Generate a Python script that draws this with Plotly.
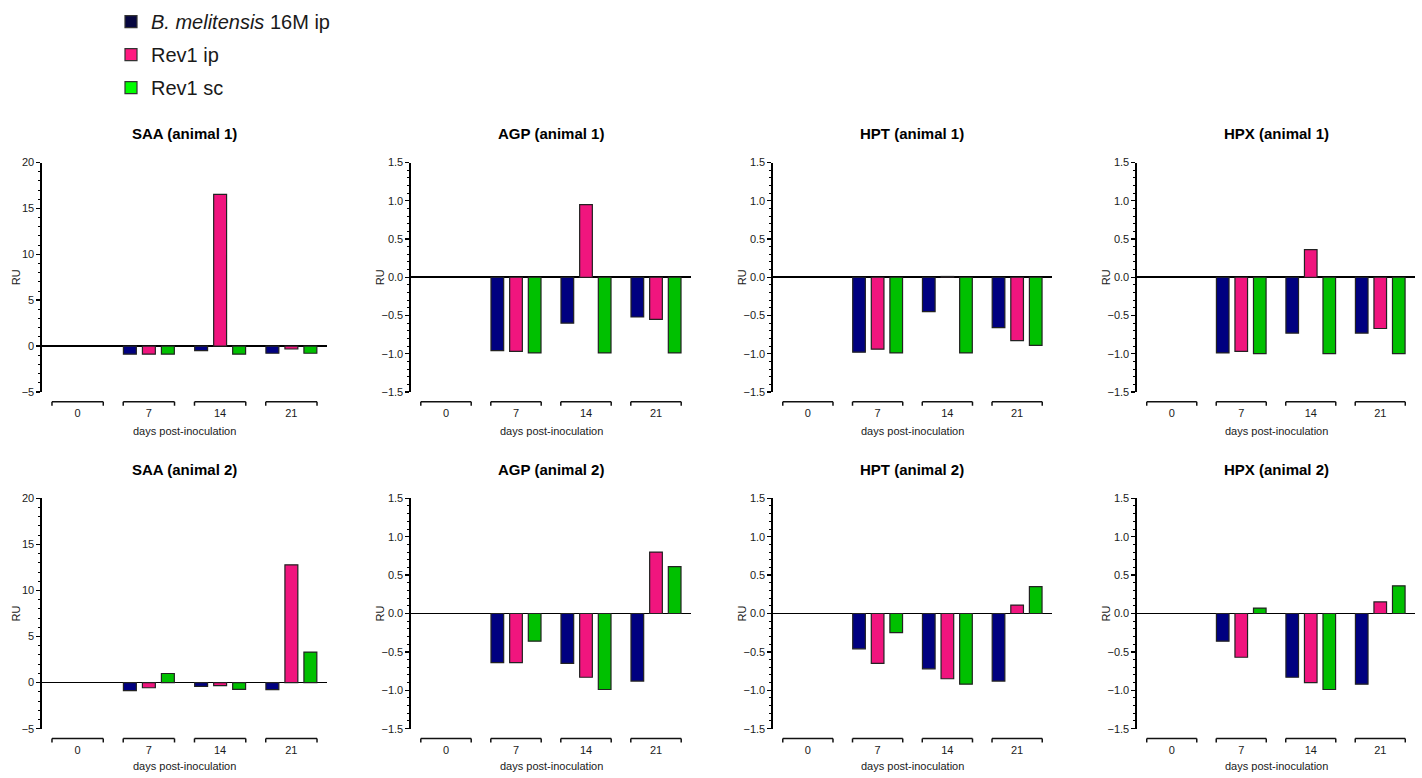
import plotly.graph_objects as go

# ---------------- data ----------------
days = ["0", "7", "14", "21"]
series_names = ["<i>B. melitensis</i> 16M ip", "Rev1 ip", "Rev1 sc"]
bar_colors = ["#000080", "#F0157E", "#00C000"]
legend_colors = ["#06063F", "#FF1A80", "#00FF00"]

panel_titles = ["SAA (animal 1)", "AGP (animal 1)", "HPT (animal 1)", "HPX (animal 1)",
                "SAA (animal 2)", "AGP (animal 2)", "HPT (animal 2)", "HPX (animal 2)"]

saa1_16m = [None, -0.88, -0.50, -0.78]
saa1_ip = [None, -0.88, 16.54, -0.32]
saa1_sc = [None, -0.88, -0.88, -0.78]

agp1_16m = [None, -0.96, -0.60, -0.52]
agp1_ip = [None, -0.97, 0.95, -0.55]
agp1_sc = [None, -0.99, -0.99, -0.99]

hpt1_16m = [None, -0.98, -0.45, -0.66]
hpt1_ip = [None, -0.94, 0.01, -0.83]
hpt1_sc = [None, -0.99, -0.99, -0.89]

hpx1_16m = [None, -0.99, -0.73, -0.73]
hpx1_ip = [None, -0.97, 0.36, -0.67]
hpx1_sc = [None, -1.00, -1.00, -1.00]

saa2_16m = [None, -0.88, -0.42, -0.77]
saa2_ip = [None, -0.56, -0.32, 12.78]
saa2_sc = [None, 0.99, -0.74, 3.31]

agp2_16m = [None, -0.64, -0.65, -0.88]
agp2_ip = [None, -0.64, -0.83, 0.80]
agp2_sc = [None, -0.36, -0.99, 0.61]

hpt2_16m = [None, -0.46, -0.72, -0.88]
hpt2_ip = [None, -0.65, -0.85, 0.11]
hpt2_sc = [None, -0.25, -0.92, 0.35]

hpx2_16m = [None, -0.36, -0.83, -0.92]
hpx2_ip = [None, -0.57, -0.90, 0.15]
hpx2_sc = [None, 0.07, -0.99, 0.36]

panel_values = [
    [saa1_16m, saa1_ip, saa1_sc],
    [agp1_16m, agp1_ip, agp1_sc],
    [hpt1_16m, hpt1_ip, hpt1_sc],
    [hpx1_16m, hpx1_ip, hpx1_sc],
    [saa2_16m, saa2_ip, saa2_sc],
    [agp2_16m, agp2_ip, agp2_sc],
    [hpt2_16m, hpt2_ip, hpt2_sc],
    [hpx2_16m, hpx2_ip, hpx2_sc],
]

saa_axis = dict(range=[-5, 20], dtick=5, minor_dtick=1, fmt="d")
prot_axis = dict(range=[-1.5, 1.5], dtick=0.5, minor_dtick=0.1, fmt=".1f")
panel_axes = [saa_axis, prot_axis, prot_axis, prot_axis,
              saa_axis, prot_axis, prot_axis, prot_axis]

# ---------------- layout geometry (pixels) ----------------
W, H = 1422, 778
col_px = [(42, 327), (411, 691), (773, 1052), (1137, 1415)]
row_px = [(159, 392), (500, 734)]
title_py = [130, 471]
xtitle_py = [432, 772]
ru_px = [16, 380, 742, 1106]

FONT = "Liberation Sans Narrow, Arial Narrow, Liberation Sans, Arial, sans-serif"
TXT = "#1a1a1a"


def px_x(p):
    return p / W


def px_y(p):
    return 1 - p / H


fig = go.Figure()
layout = dict(
    width=W, height=H,
    margin=dict(l=0, r=0, t=0, b=0),
    paper_bgcolor="white", plot_bgcolor="white",
    barmode="group", bargap=0.2, bargroupgap=0.32,
    showlegend=True,
    legend=dict(x=px_x(111), y=px_y(-4), xanchor="left", yanchor="top",
                font=dict(family="Liberation Sans, Arial, sans-serif", size=20, color=TXT),
                traceorder="grouped", tracegroupgap=4, itemwidth=30,
                bgcolor="rgba(0,0,0,0)"),
    font=dict(family=FONT, color=TXT),
)
shapes = []
annotations = []

for k, (title, vals, ax) in enumerate(zip(panel_titles, panel_values, panel_axes)):
    n = k + 1
    r, c = divmod(k, 4)
    xs = "" if n == 1 else str(n)
    x0p, x1p = col_px[c]
    ytop, ybot = row_px[r]
    for s in range(3):
        fig.add_trace(go.Bar(
            x=days, y=vals[s], name=series_names[s],
            marker=dict(color=bar_colors[s], line=dict(color="#222222", width=1.2)),
            showlegend=False, legendgroup=f"s{s}",
            xaxis=f"x{xs}", yaxis=f"y{xs}",
        ))
    layout[f"xaxis{xs}"] = dict(
        domain=[px_x(x0p), px_x(x1p)], anchor=f"y{xs}", type="category",
        categoryorder="array", categoryarray=days,
        range=[-0.5, len(days) - 0.5], showline=False, showgrid=False, zeroline=False,
        ticks="", ticklabelstandoff=13, tickfont=dict(family=FONT, size=11, color=TXT),
        fixedrange=True,
    )
    layout[f"yaxis{xs}"] = dict(
        domain=[px_y(ybot), px_y(ytop)], anchor=f"x{xs}",
        range=ax["range"], dtick=ax["dtick"], tick0=0, tickformat=ax["fmt"],
        showline=True, linecolor="black", linewidth=1.6,
        ticks="outside", ticklen=4, tickwidth=1.4, tickcolor="black",
        minor=dict(dtick=ax["minor_dtick"], tick0=0, ticks="outside", ticklen=2,
                   tickwidth=1, tickcolor="black"),
        showgrid=False, zeroline=True, zerolinecolor="black", zerolinewidth=1.6,
        tickfont=dict(family=FONT, size=11, color=TXT), fixedrange=True,
    )
    # category brackets under each x category
    yb = px_y(ybot + 10)
    yt = px_y(ybot + 14)
    for i in range(len(days)):
        xa, xb = i - 0.36, i + 0.36
        shapes.append(dict(type="line", xref=f"x{xs}", yref="paper", x0=xa, x1=xb, y0=yb, y1=yb,
                           line=dict(color="#111111", width=1.5)))
        shapes.append(dict(type="line", xref=f"x{xs}", yref="paper", x0=xa, x1=xa, y0=yb, y1=yt,
                           line=dict(color="#111111", width=1.5)))
        shapes.append(dict(type="line", xref=f"x{xs}", yref="paper", x0=xb, x1=xb, y0=yb, y1=yt,
                           line=dict(color="#111111", width=1.5)))
    # panel title
    annotations.append(dict(text=f"<b>{title}</b>", x=px_x((x0p + x1p) / 2), y=px_y(title_py[r]),
                            xref="paper", yref="paper", showarrow=False, xanchor="center",
                            yanchor="middle", font=dict(family=FONT, size=15, color="black")))
    # x-axis title
    annotations.append(dict(text="days post-inoculation", x=px_x((x0p + x1p) / 2),
                            y=px_y(xtitle_py[r]), xref="paper", yref="paper", showarrow=False,
                            xanchor="center", yanchor="middle",
                            font=dict(family=FONT, size=11, color=TXT)))
    # y-axis title
    annotations.append(dict(text="RU", x=px_x(ru_px[c]), y=px_y((ytop + ybot) / 2),
                            xref="paper", yref="paper", showarrow=False, textangle=-90,
                            xanchor="center", yanchor="middle",
                            font=dict(family=FONT, size=11, color=TXT)))

# legend-only entries (hidden helper axes so they do not affect bar grouping)
for s in range(3):
    fig.add_trace(go.Bar(
        x=[None], y=[None], name=series_names[s],
        marker=dict(color=legend_colors[s], line=dict(color="#333333", width=1.2)),
        showlegend=True, legendgroup=f"s{s}", xaxis="x9", yaxis="y9",
    ))
layout["xaxis9"] = dict(domain=[0, 0.001], anchor="y9", visible=False)
layout["yaxis9"] = dict(domain=[0, 0.001], anchor="x9", visible=False)

layout["shapes"] = shapes
layout["annotations"] = annotations
fig.update_layout(**layout)
fig.write_html("out.html", config={"displayModeBar": False, "staticPlot": True},
               post_script="document.body.style.margin='0px';document.body.style.overflow='hidden';")
